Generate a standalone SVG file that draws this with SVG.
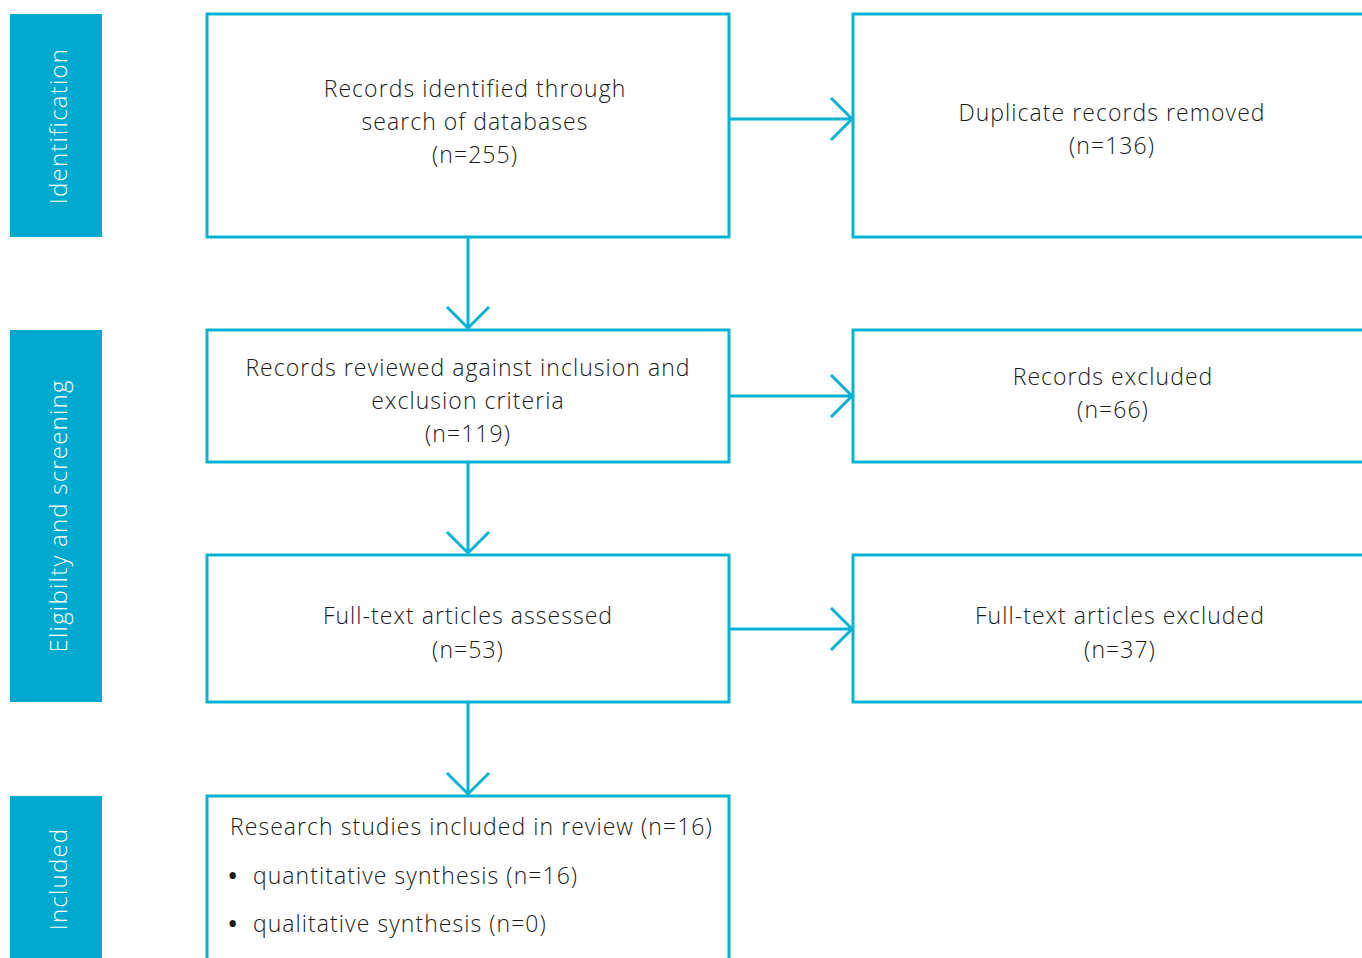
<svg xmlns="http://www.w3.org/2000/svg" width="1362" height="958" viewBox="0 0 1362 958">
<defs>
<style>
.side{fill:#00AACE;}
.sidet{fill:#ffffff;font-family:"Open Sans","Noto Sans",sans-serif;font-weight:300;font-size:24px;text-anchor:middle;letter-spacing:1.2px;}
.box{fill:#ffffff;stroke:#08B2D2;stroke-width:3;}
.t{fill:#1a1a1a;font-family:"Open Sans","Noto Sans",sans-serif;font-weight:300;font-size:23px;text-anchor:middle;letter-spacing:1.05px;}
.tl{text-anchor:start;}
.b{font-size:30px;font-weight:400;}
.c{fill:none;stroke:#08B2D2;stroke-width:3;}
</style>
</defs>
<rect width="1362" height="958" fill="#ffffff"/>
<g id="side-identification"><rect class="side" x="10" y="14" width="92" height="223"/><text class="sidet" transform="translate(67,126) rotate(-90)">Identification</text></g>
<g id="side-eligibility"><rect class="side" x="10" y="330" width="92" height="372"/><text class="sidet" transform="translate(67,516) rotate(-90)">Eligibilty and screening</text></g>
<g id="side-included"><rect class="side" x="10" y="796" width="92" height="170"/><text class="sidet" transform="translate(67,879) rotate(-90)">Included</text></g>

<g id="connectors">
<path class="c" d="M729,119 H852 M831,98 L852,119 L831,140"/>
<path class="c" d="M729,396 H852 M831,375 L852,396 L831,417"/>
<path class="c" d="M729,629 H852 M831,608 L852,629 L831,650"/>
<path class="c" d="M468,237 V328 M447,307 L468,328 L489,307"/>
<path class="c" d="M468,462 V553 M447,532 L468,553 L489,532"/>
<path class="c" d="M468,702 V794 M447,773 L468,794 L489,773"/>
</g>

<g id="n1"><rect class="box" x="207" y="14" width="522" height="223"/>
<text class="t" x="475" y="97">Records identified through</text>
<text class="t" x="475" y="130">search of databases</text>
<text class="t" x="475" y="163">(n=255)</text></g>
<g id="n2"><rect class="box" x="853" y="14" width="520" height="223"/>
<text class="t" x="1112" y="121">Duplicate records removed</text>
<text class="t" x="1112" y="154">(n=136)</text></g>
<g id="n3"><rect class="box" x="207" y="330" width="522" height="132"/>
<text class="t" x="468" y="376">Records reviewed against inclusion and</text>
<text class="t" x="468" y="409">exclusion criteria</text>
<text class="t" x="468" y="442">(n=119)</text></g>
<g id="n4"><rect class="box" x="853" y="330" width="520" height="132"/>
<text class="t" x="1113" y="385">Records excluded</text>
<text class="t" x="1113" y="418">(n=66)</text></g>
<g id="n5"><rect class="box" x="207" y="555" width="522" height="147"/>
<text class="t" x="468" y="624">Full-text articles assessed</text>
<text class="t" x="468" y="658">(n=53)</text></g>
<g id="n6"><rect class="box" x="853" y="555" width="520" height="147"/>
<text class="t" x="1120" y="624">Full-text articles excluded</text>
<text class="t" x="1120" y="658">(n=37)</text></g>
<g id="n7"><rect class="box" x="207" y="796" width="522" height="180"/>
<text class="t tl" x="230" y="835">Research studies included in review (n=16)</text>
<text class="t tl b" x="227" y="886">•</text>
<text class="t tl" x="253" y="884">quantitative synthesis (n=16)</text>
<text class="t tl b" x="227" y="934">•</text>
<text class="t tl" x="253" y="932">qualitative synthesis (n=0)</text></g>
</svg>
